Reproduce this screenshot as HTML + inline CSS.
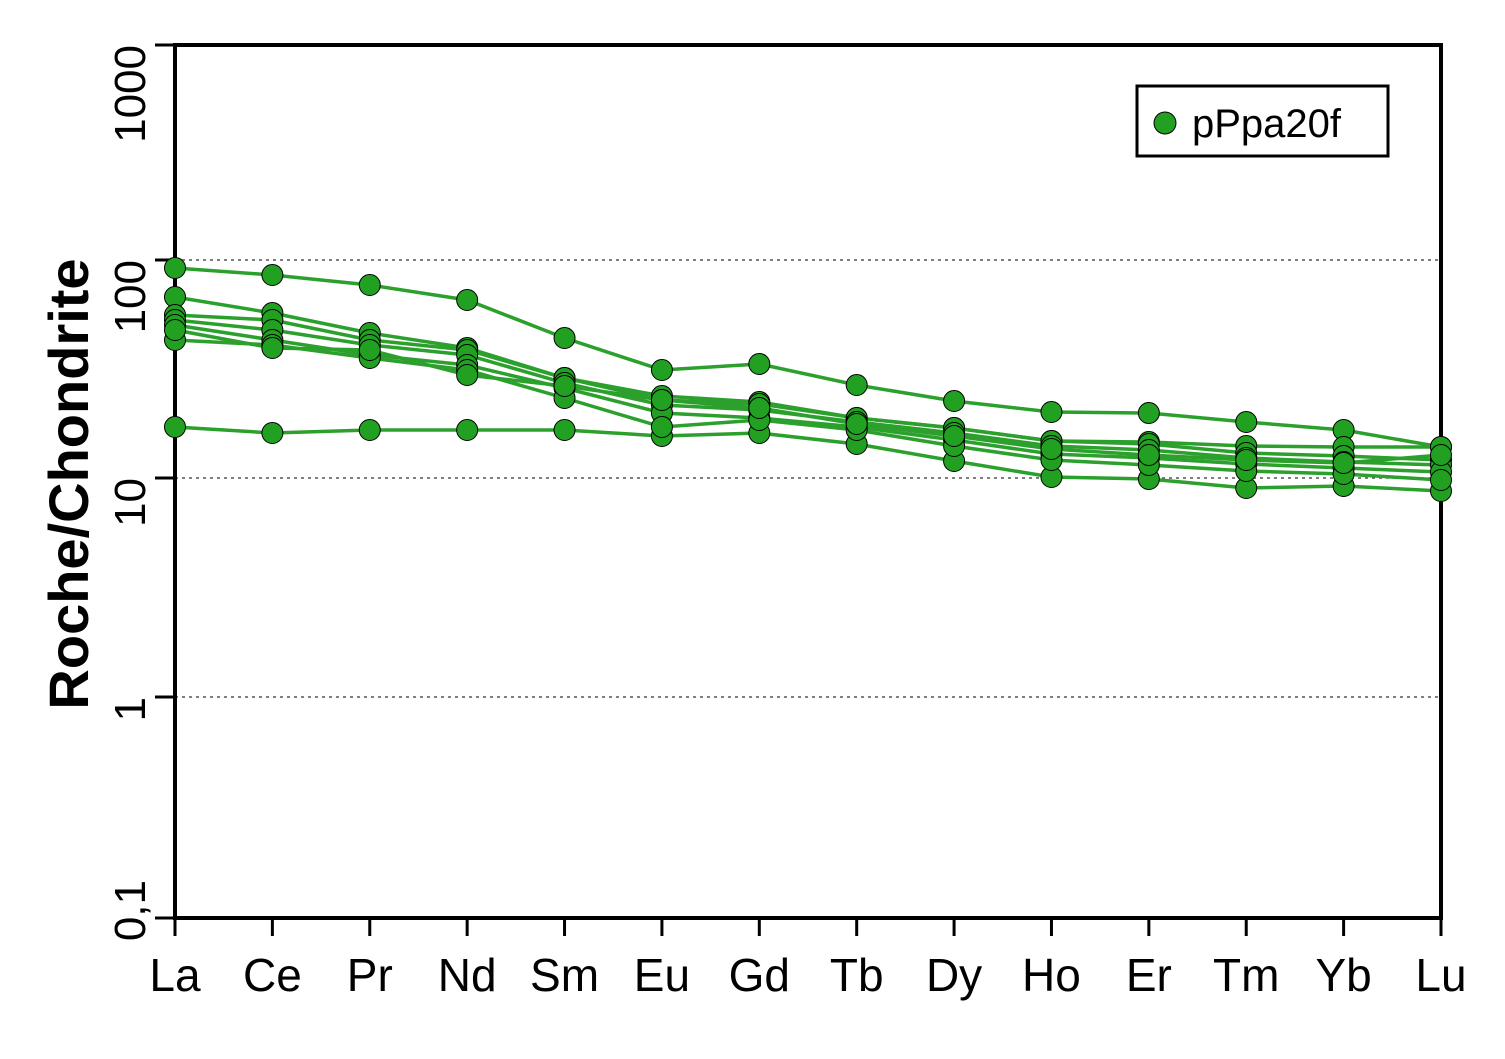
<!DOCTYPE html><html><head><style>body{margin:0;background:#fff}</style></head><body>
<svg width="1505" height="1054" xmlns="http://www.w3.org/2000/svg" font-family="Liberation Sans, sans-serif">
<rect width="1505" height="1054" fill="#fff"/>
<g stroke="#555" stroke-width="1.5" stroke-dasharray="3,4">
<line x1="175" x2="1441" y1="260" y2="260"/><line x1="175" x2="1441" y1="478" y2="478"/><line x1="175" x2="1441" y1="697" y2="697"/>
</g>
<rect x="175" y="45" width="1266" height="873" fill="none" stroke="#000" stroke-width="4"/>
<g stroke="#000" stroke-width="3">
<line x1="155" x2="175" y1="45" y2="45"/><line x1="155" x2="175" y1="260" y2="260"/><line x1="155" x2="175" y1="478" y2="478"/><line x1="155" x2="175" y1="697" y2="697"/><line x1="155" x2="175" y1="918" y2="918"/>
</g>
<g id="xt" stroke="#000" stroke-width="3"></g>
<g font-size="44" text-anchor="end">
<text transform="translate(145,45) rotate(-90)">1000</text>
<text transform="translate(145,260) rotate(-90)">100</text>
<text transform="translate(145,478) rotate(-90)">10</text>
<text transform="translate(145,697) rotate(-90)">1</text>
<text transform="translate(145,880) rotate(-90)">0,1</text>
</g>
<text transform="translate(88,484) rotate(-90)" font-size="56" font-weight="bold" text-anchor="middle">Roche/Chondrite</text>
<g id="xl" font-size="46" text-anchor="middle"></g>
<g id="series"></g>
<rect x="1137" y="86" width="251" height="70" fill="#fff" stroke="#000" stroke-width="3"/>
<circle cx="1165" cy="123" r="11" fill="#22a022" stroke="#000" stroke-width="1"/>
<text x="1192" y="137" font-size="40">pPpa20f</text>
</svg>
<script>
var xs=[],lab="La Ce Pr Nd Sm Eu Gd Tb Dy Ho Er Tm Yb Lu".split(" ");
for(var i=0;i<14;i++)xs.push(175+i*1266/13);
var ns="http://www.w3.org/2000/svg",xt=document.getElementById("xt"),xl=document.getElementById("xl"),sg=document.getElementById("series");
xs.forEach(function(x,i){var l=document.createElementNS(ns,"line");l.setAttribute("x1",x);l.setAttribute("x2",x);l.setAttribute("y1",918);l.setAttribute("y2",936);xt.appendChild(l);
var t=document.createElementNS(ns,"text");t.setAttribute("x",x);t.setAttribute("y",991);t.textContent=lab[i];xl.appendChild(t);});
var S=[[268,275,285,300,338,370,364,385,401,412,413,422,430,447],
[297,313,333,348,378,396,402,418,428,441,442,446,447,447],
[427,433,430,430,430,436,433,444,461,477,479,488,486,491],
[315,320,340,350,378,400,404,418,428,441,444,453,456,460],
[320,330,345,355,383,405,410,422,433,446,450,458,462,465],
[325,340,355,365,388,413,418,427,440,454,458,464,468,472],
[340,345,358,370,398,427,420,430,446,460,465,471,474,480],
[330,348,350,375,386,400,408,424,436,449,455,460,463,455]];
S.forEach(function(s){var p=document.createElementNS(ns,"polyline");p.setAttribute("points",s.map(function(y,i){return xs[i]+","+y}).join(" "));p.setAttribute("fill","none");p.setAttribute("stroke","#2ca02c");p.setAttribute("stroke-width","3.5");sg.appendChild(p);});
S.forEach(function(s){s.forEach(function(y,i){var c=document.createElementNS(ns,"circle");c.setAttribute("cx",xs[i]);c.setAttribute("cy",y);c.setAttribute("r",10.5);c.setAttribute("fill","#22a022");c.setAttribute("stroke","#000");c.setAttribute("stroke-width","1");sg.appendChild(c);});});
</script>
</body></html>
